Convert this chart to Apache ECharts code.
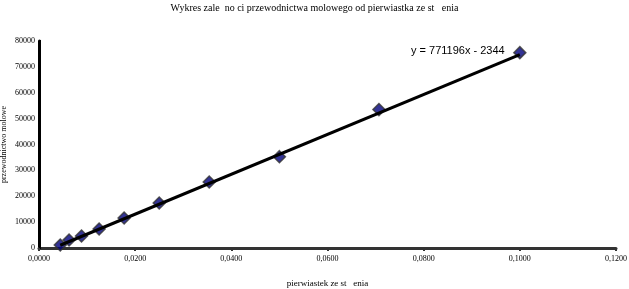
<!DOCTYPE html>
<html><head><meta charset="utf-8">
<script src="https://cdn.jsdelivr.net/npm/echarts@6/dist/echarts.min.js"></script>
<style>html,body{margin:0;padding:0;background:#fff}#c{width:629px;height:289px}</style>
</head><body><div id="c"></div>
<script>
const xValues = [0.00442, 0.00625, 0.00884, 0.0125, 0.0177, 0.025, 0.0354, 0.05, 0.0707, 0.1];
const yValues = [1160, 3090, 4640, 7340, 11600, 17400, 25500, 35300, 53500, 75500];
const slope = 771196;
const intercept = -2344;
const titleText = 'Wykres zale  no ci przewodnictwa molowego od pierwiastka ze st   enia';
const xAxisName = 'pierwiastek ze st   enia';
const yAxisName = 'przewodnictwo molowe';
const equationText = 'y = 771196x - 2344';

const points = xValues.map((x, i) => [x, yValues[i]]);
const xMin = Math.min(...xValues), xMax = Math.max(...xValues);
const trend = [[xMin, slope * xMin + intercept], [xMax, slope * xMax + intercept]];

const chart = echarts.init(document.getElementById('c'));
const serif = '"Liberation Serif", "DejaVu Serif", serif';
chart.setOption({
  animation: false,
  backgroundColor: '#fff',
  title: {
    text: titleText, left: 'center', top: -2,
    textStyle: { fontFamily: serif, fontSize: 10, fontWeight: 'normal', color: '#000' }
  },
  grid: { left: 39, right: 13, top: 41, bottom: 41, containLabel: false, outerBoundsMode: 'none' },
  xAxis: {
    type: 'value', min: 0, max: 0.12, interval: 0.02,
    name: xAxisName, nameLocation: 'middle', nameGap: 31, nameMoveOverlap: false,
    nameTextStyle: { fontFamily: serif, fontSize: 9, color: '#000' },
    axisLine: { lineStyle: { color: '#333', width: 3 } },
    axisTick: { show: true, length: 3, lineStyle: { color: '#333', width: 2 } },
    axisLabel: { fontFamily: serif, fontSize: 8, color: '#000', margin: 7,
      formatter: v => v.toFixed(4).replace('.', ',') },
    splitLine: { show: false }
  },
  yAxis: {
    type: 'value', min: 0, max: 80000, interval: 10000,
    name: yAxisName, nameLocation: 'middle', nameGap: 31, nameRotate: 90, nameMoveOverlap: false,
    nameTextStyle: { fontFamily: serif, fontSize: 8, color: '#000' },
    axisLine: { show: true, lineStyle: { color: '#000', width: 3 } },
    axisTick: { show: true, inside: true, length: 2, lineStyle: { color: '#000', width: 2 } },
    axisLabel: { fontFamily: serif, fontSize: 8, color: '#000', margin: 4,
      formatter: v => String(v) },
    splitLine: { show: false }
  },
  graphic: [{
    type: 'text', left: 411, top: 45, z: 10,
    style: { text: equationText, font: '11px "Liberation Sans", Arial, sans-serif', fill: '#000' }
  }],
  series: [
    {
      type: 'scatter', data: points, symbol: 'diamond', symbolSize: 12, z: 2,
      itemStyle: { color: '#00007a', borderColor: '#333', borderWidth: 1.5 }
    },
    {
      type: 'line', data: trend, symbol: 'none', z: 3,
      lineStyle: { color: '#000', width: 3 }
    }
  ]
});
</script></body></html>
